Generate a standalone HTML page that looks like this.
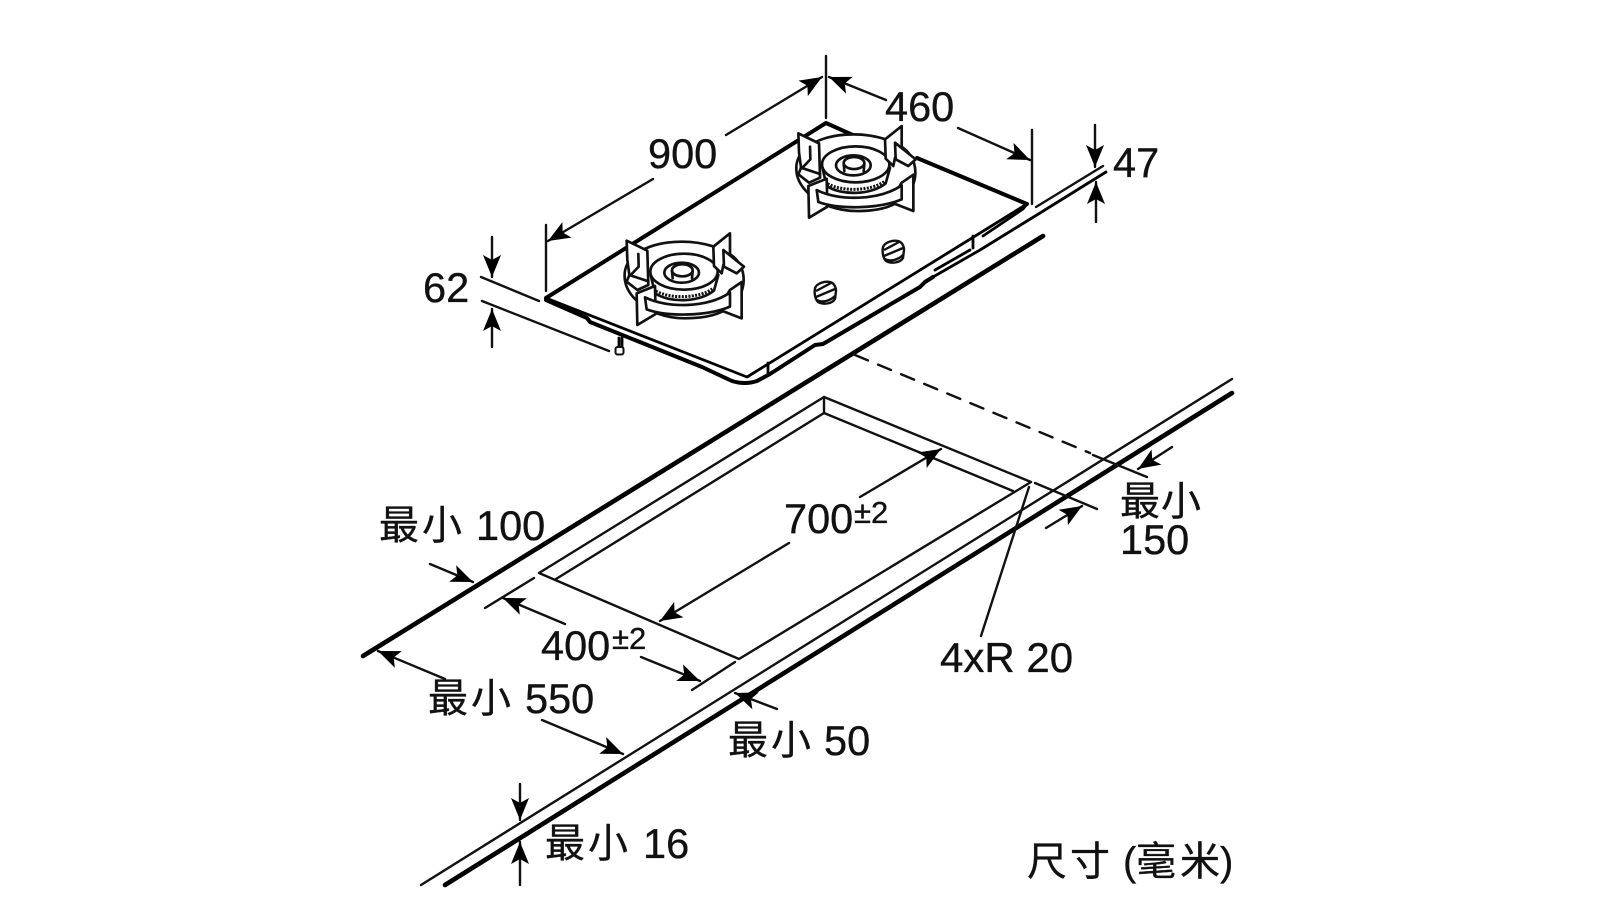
<!DOCTYPE html>
<html><head><meta charset="utf-8"><style>
html,body{margin:0;padding:0;background:#fff;width:1600px;height:900px;overflow:hidden}
svg{display:block}
text{font-family:"Liberation Sans","Noto Sans CJK SC",sans-serif;font-size:41.5px;fill:#111;stroke:#111;stroke-width:.35}
.c{font-size:40px}
.s{font-size:31px}
.l{fill:none;stroke:#111;stroke-width:2.4;stroke-linecap:round;stroke-linejoin:round}
.a{marker-end:url(#ah)}
.t{fill:none;stroke:#000;stroke-width:4;stroke-linecap:round;stroke-linejoin:round}
.h{stroke-width:4.6}
.m{fill:none;stroke:#000;stroke-width:2.8;stroke-linecap:round;stroke-linejoin:round}
.b path,.b ellipse{stroke:#111;stroke-width:8;stroke-linejoin:round;stroke-linecap:round;fill:#fff}
.b .n{fill:none}
.b .p{fill:none;stroke-width:9;stroke-dasharray:6 4;stroke-linecap:butt}
</style></head><body>
<svg width="1600" height="900" viewBox="0 0 1600 900" xmlns="http://www.w3.org/2000/svg">
<defs>
<marker id="ah" markerUnits="userSpaceOnUse" markerWidth="26" markerHeight="24" refX="23" refY="12" orient="auto">
<path d="M1,3 L23,12 L1,21 L6,12 Z" fill="#000"/>
</marker>
<g id="burner" class="b">
<path d="M135,135 C95,165 90,225 140,272 C170,305 230,325 285,325 C340,325 390,315 420,290 C465,260 475,190 440,150 C410,115 340,95 275,95 C215,95 165,110 135,135 Z"/>
<path d="M182,195 L195,250 C240,280 330,277 372,242 L385,195 Z"/>
<path class="p" d="M198,243 C240,268 330,265 368,236"/>
<ellipse cx="282" cy="185" rx="101" ry="54"/>
<ellipse cx="275" cy="188" rx="52" ry="30"/>
<ellipse cx="277" cy="181" rx="31" ry="18"/>
<path class="n" d="M246,183 L248,205 M308,183 L306,205"/>
<path d="M110,92 L172,122 L175,225 L142,240 L110,215 L118,195 L112,150 Z"/>
<path class="n" d="M145,132 L146,170 L125,192 M118,195 L175,214"/>
<path d="M420,70 L370,110 L372,168 L395,190 L400,165 L420,142 Z"/>
<path d="M400,120 L462,170 L440,190 L402,170 Z"/>
<path d="M140,250 L195,228 L197,312 L142,345 Z"/>
<path d="M420,240 L455,216 L455,325 L385,298 Z"/>
<path d="M165,262 C230,295 350,295 420,248 L420,290 C350,320 230,320 170,298 Z"/>
</g>
<g id="knob">
<path d="M-10,-5 C-8,-10 0,-12 5,-11 C9,-10 11,-6 11,-2 L10,6 C7,11 -2,12 -7,9 C-10,6 -11,0 -10,-5 Z" fill="#fff" stroke="#111" stroke-width="2.4"/>
<path d="M-9,-2 L6,-10 M-9,4 L10,-4 M-8,7 C-3,10 5,8 10,3" fill="none" stroke="#111" stroke-width="2.4"/>
</g>
</defs>

<!-- hob outline -->
<path class="t" d="M546,298 L826,123 L855,136"/>
<path class="t" d="M917,158 L1027,204"/>
<path class="m" d="M546,298 L747,377 L1027,204"/>
<path class="t" d="M546,300 L587,318 L590,322 L702,367 L732,381 Q745,385 757,381 L770,374 L815,345 L823,344 L920,287 L925,282 L933,277"/>
<path class="m" d="M933,277 L980,250 L1040,213 L1106,172"/>
<path class="m" d="M935,270 L970,250"/>
<path class="m" d="M973,236 L973,248 M983,236 L1023,209 L1027,204 M768,363 L768,373"/>
<path class="m" d="M619,338 L619,347 M622,338 L622,347"/>
<rect x="615.500" y="347" width="8" height="7.500" rx="2" fill="#fff" stroke="#111" stroke-width="2"/>

<use href="#burner" transform="translate(590,210) scale(.3333)"/>
<use href="#burner" transform="translate(761.700,102.700) scale(.3333)"/>
<use href="#knob" transform="translate(825,293)"/>
<use href="#knob" transform="translate(893,252)"/>

<!-- counter -->
<path class="t h" d="M363,656 L1043,236"/>
<path class="l" d="M539,573 L824,397 L1031,482 L739,659 Z"/>
<path class="l" d="M556,579 L824,413 L1013,491 M824,397 L824,413"/>
<path class="l" d="M421,885 L1232,379"/>
<path class="t h" d="M445,885 L1232,393"/>
<path class="l" stroke-dasharray="14 11" d="M855,355 L1090,453"/>
<path class="l" d="M1093,455 L1147,477 M1035,483 L1097,509 M1029,487 L981,636"/>
<path class="l" d="M485,608 L534,578 M692,690 L735,662"/>

<!-- dims -->
<path class="l" d="M546,225 L546,291 M826,56 L826,118 M1032,130 L1032,204"/>
<path class="l" d="M481,277 L539,301 M482,301 L609,351 M1036,207 L1103,166"/>
<line class="l a" x1="653" y1="179" x2="548" y2="241"/>
<line class="l a" x1="726" y1="135" x2="822" y2="77"/>
<line class="l a" x1="886" y1="100" x2="829" y2="77"/>
<line class="l a" x1="958" y1="128" x2="1030" y2="160"/>
<line class="l a" x1="1095" y1="125" x2="1095" y2="167"/>
<line class="l a" x1="1096" y1="222" x2="1096" y2="182"/>
<line class="l a" x1="492" y1="237" x2="492" y2="277"/>
<line class="l a" x1="492" y1="347" x2="492" y2="309"/>
<line class="l a" x1="430" y1="564" x2="473" y2="582"/>
<line class="l a" x1="565" y1="624" x2="503" y2="598"/>
<line class="l a" x1="641" y1="657" x2="700" y2="681"/>
<line class="l a" x1="789" y1="543" x2="660" y2="621"/>
<line class="l a" x1="860" y1="497" x2="941" y2="449"/>
<line class="l a" x1="1172" y1="447" x2="1138" y2="469"/>
<line class="l a" x1="1046" y1="528" x2="1082" y2="506"/>
<line class="l a" x1="445" y1="679" x2="378" y2="651"/>
<line class="l a" x1="542" y1="720" x2="623" y2="754"/>
<line class="l a" x1="777" y1="709" x2="735" y2="693"/>
<line class="l a" x1="520" y1="784" x2="520" y2="820"/>
<line class="l a" x1="520" y1="885" x2="520" y2="842"/>

<!-- labels -->
<text x="648" y="168">900</text>
<text x="885" y="121">460</text>
<text x="1113" y="177">47</text>
<text x="423" y="302">62</text>
<text class="c" x="379" y="539">最</text><text class="c" x="422" y="539">小</text><text x="476" y="540">100</text>
<text x="784" y="533">700</text><text class="s" x="854" y="523">±2</text>
<text x="541" y="660">400</text><text class="s" x="612" y="649">±2</text>
<text class="c" x="428" y="712">最</text><text class="c" x="471" y="712">小</text><text x="525" y="713">550</text>
<text class="c" x="728" y="754">最</text><text class="c" x="771" y="754">小</text><text x="824" y="755">50</text>
<text class="c" x="545" y="857">最</text><text class="c" x="588" y="857">小</text><text x="643" y="858">16</text>
<text class="c" x="1120" y="515">最</text><text class="c" x="1161" y="515">小</text>
<text x="1120" y="554">150</text>
<text x="940" y="672" style="font-size:42px">4xR 20</text>
<text class="c" x="1027" y="875">尺</text><text class="c" x="1070" y="875">寸</text><text class="c" x="1123" y="875">(</text><text class="c" x="1136" y="875">毫</text><text class="c" x="1180" y="875">米</text><text class="c" x="1220" y="875">)</text>
</svg>
</body></html>
